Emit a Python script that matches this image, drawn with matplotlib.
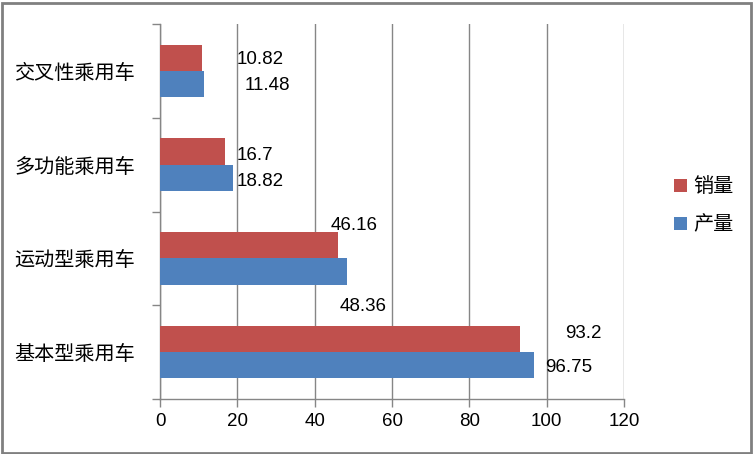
import matplotlib
matplotlib.use("Agg")
import matplotlib.pyplot as plt
from matplotlib.patches import Rectangle, Patch

categories = ["基本型乘用车", "运动型乘用车", "多功能乘用车", "交叉性乘用车"]
sales = [93.2, 46.16, 16.7, 10.82]        # 销量
production = [96.75, 48.36, 18.82, 11.48]  # 产量
sales_labels = ["93.2", "46.16", "16.7", "10.82"]
prod_labels = ["96.75", "48.36", "18.82", "11.48"]
xticks = [0, 20, 40, 60, 80, 100, 120]

# label offsets (pixels) from bar end, mimicking the original placement
sales_off = [(45, -6), (-8, -20), (12, 4), (35, 2)]
prod_off = [(11, 2), (-7, 35), (4, 4), (40, 2)]

RED = "#C0504D"
BLUE = "#4F81BD"
GRID = "#868686"
CJK = ["Noto Sans CJK SC", "DejaVu Sans"]
NUM = ["Liberation Sans", "DejaVu Sans"]

W, H = 754, 454
fig = plt.figure(figsize=(W / 100, H / 100), dpi=100)
ax = fig.add_axes([160 / W, (H - 399) / H, 464 / W, 375 / H])

h = 0.28
ys = list(range(len(categories)))
ax.barh([y + h / 2 for y in ys], sales, height=h, color=RED, zorder=3)
ax.barh([y - h / 2 for y in ys], production, height=h, color=BLUE, zorder=3)

for y, v, t, (dx, dy) in zip(ys, sales, sales_labels, sales_off):
    ax.annotate(t, (v, y + h / 2), xytext=(dx, -dy), textcoords="offset pixels",
                ha="left", va="center", fontsize=13.5, family=NUM, color="black")
for y, v, t, (dx, dy) in zip(ys, production, prod_labels, prod_off):
    ax.annotate(t, (v, y - h / 2), xytext=(dx, -dy), textcoords="offset pixels",
                ha="left", va="center", fontsize=13.5, family=NUM, color="black")

ax.set_xlim(0, 120)
ax.set_ylim(-0.5, len(categories) - 0.5)
ax.set_xticks(xticks)
ax.set_xticklabels([str(x) for x in xticks], fontsize=13.5, family=NUM)
ax.xaxis.grid(True, color=GRID, linewidth=1, zorder=0)
ax.tick_params(axis="x", length=6, color=GRID, width=1, pad=4)

ax.set_yticks(ys)
ax.set_yticklabels(categories, fontsize=14.5, family=CJK)
ax.set_yticks([y - 0.5 for y in range(len(categories) + 1)], minor=True)
ax.tick_params(axis="y", which="major", length=0, pad=18)
ax.tick_params(axis="y", which="minor", length=6, color=GRID, width=1)

for s in ["top", "right"]:
    ax.spines[s].set_visible(False)
for s in ["left", "bottom"]:
    ax.spines[s].set_color(GRID)
    ax.spines[s].set_linewidth(1)

handles = [Patch(facecolor=RED, edgecolor="none"), Patch(facecolor=BLUE, edgecolor="none")]
fig.legend(handles, ["销量", "产量"], loc="center left",
           bbox_to_anchor=(656 / W, 1 - 206 / H), frameon=False,
           prop={"family": CJK, "size": 14.5}, handlelength=0.65, handleheight=0.65,
           handletextpad=0.3, labelspacing=0.85)

fig.patches.append(Rectangle((1.5 / W, 1.5 / H), 749 / W, 450 / H, transform=fig.transFigure,
                             fill=False, edgecolor="#808080", linewidth=2))

fig.savefig("out.png", dpi=100)
